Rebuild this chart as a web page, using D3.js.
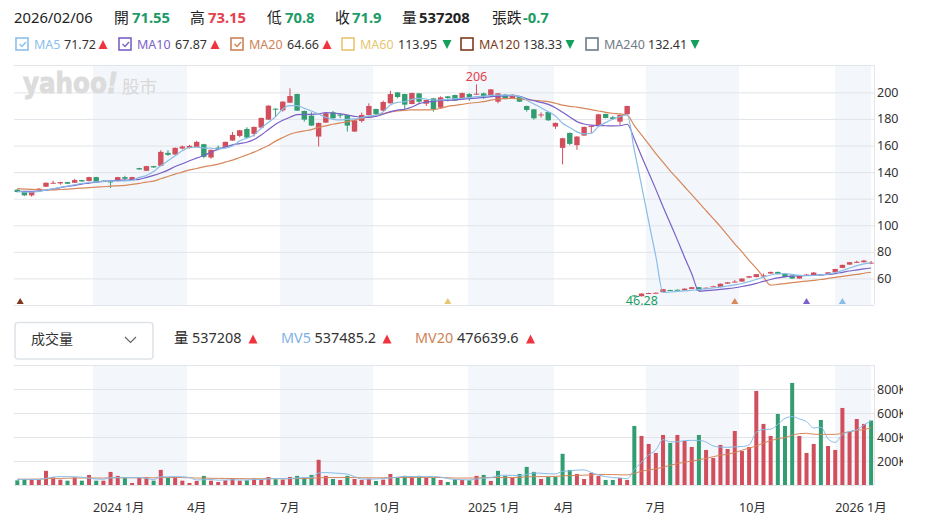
<!DOCTYPE html>
<html>
<head>
<meta charset="utf-8">
<style>
  html, body { margin: 0; padding: 0; background: #fff; }
  svg { display: block; font-family: "Noto Sans", "Noto Sans CJK TC", sans-serif; }
</style>
<script src="https://cdn.jsdelivr.net/npm/d3@7"></script>
</head>
<body>
<svg id="chart" width="925" height="520"></svg>
<script>
// weekly candles
const opens = [
    126.75,125.5,122.5,126.5,129,131.5,131.5,132.5,132,134,
    133.25,136.25,133.5,133,133.25,136.25,134,143,141,144.5,
    144.75,154.5,153.25,157.75,158.25,159,161,151,158.5,159,
    163.75,167.25,172.5,168.75,173.5,179.5,187.75,186.5,192.25,198.75,
    186,182.5,166.75,177.25,185,183.25,183,170.5,178.5,183,
    187.5,186.25,191.75,200,198.75,191.25,199.25,191.5,195.5,188.5,
    197,198,195,198.75,198.75,199.25,197.5,193,198.25,195.75,
    196.75,189.75,187.25,183,185.25,174.25,158.25,169.5,160.25,167.5,
    174.5,175.5,183.75,181.25,178,183.5,47.2,46.6,48.8,49,
    49.6,51.3,51.5,51,52.1,53.4,52.8,53.9,53.6,56.1,
    57.4,57.6,60.6,61,62.1,63.7,64.9,63.4,62.1,59.9,
    62.7,62.4,62.8,62.9,64.6,67.9,70.4,72.3,72.2,71.55
];
const closes = [
    125,122.5,125.5,127.5,132,132,132.5,131.25,134,133,
    136.25,132.25,132.75,132.5,136.25,135,136.25,142,144.5,143.5,
    155.25,153,158.25,159.25,159.75,162.75,151.5,156.75,157.5,162.75,
    168,171.5,166,174,180.75,190,187.25,193,197.25,186.25,
    179.5,175,177,184.25,180.5,182.5,175,179,183,189.75,
    183.5,192.75,198.75,196.5,190.75,199.5,193,194.25,187.5,196.25,
    195.75,193.75,199.5,196.5,199,197,202.25,199.25,195,198.25,
    193,186.75,180.5,183.4,179,177,165.5,161.25,166.75,174,
    174.75,183.5,180.75,180,183,189.75,46.8,48.6,49,49.2,
    51.9,51.1,51.3,52.3,53.4,50.9,53,54.1,56,57.1,
    57.6,59.9,61.7,63.2,62.3,64.9,63.2,61.1,59.9,61.9,
    62.9,64.4,63,64.6,67.1,70.2,72.2,72.5,73.4,71.9
];
const highs = [
    127.2,125.8,125.7,128,132.2,133.5,132.7,132.6,135,134.2,
    136.5,136.5,133.8,133.2,136.4,137.25,136.5,143.2,144.7,144.7,
    156.5,156.5,158.5,160,160.5,163.5,161.3,157,160,163,
    170.25,171.8,173.75,174.3,181,190.3,188,193.3,203,199,
    186.3,185,177.3,184.5,186,184.5,183.3,179.3,184.75,191.75,
    187.8,193.75,201.25,200.3,199,199.8,199.5,194.5,195.8,197,
    197.3,198.3,199.8,199.5,206,199.8,202.5,199.5,198.8,198.5,
    197,190,187.5,185,185.5,177.3,165.8,169.8,167,174.3,
    175,183.8,184,182.25,183.3,190,47.5,48.8,49.3,49.5,
    52.1,51.5,51.7,52.5,53.6,53.6,53.3,54.5,56.2,57.3,
    58.8,60.1,61.9,63.4,63.7,65.1,65.1,63.6,62.3,62.1,
    63.3,64.9,63.4,64.8,67.3,70.4,72.4,73.4,74,73.15
];
const lows = [
    124.7,122.2,121.5,126.3,128.8,131.3,130.5,131,131.8,132.8,
    133,132,132.5,128,133,134,133.8,141.8,140.8,143.3,
    144.5,152.25,153,157,157.75,158.8,150.5,150,156.5,158.8,
    163.5,166.25,165.7,166.75,173.3,179.3,181.5,185.5,192,186,
    178,174.8,159.25,177,180.3,180.5,170.5,170.3,177.25,182.8,
    183.3,186,191.5,195.5,186.75,191,191.75,189.75,185.5,188.3,
    193.25,193.5,194.8,193.75,198.5,195,197.3,191.75,194.8,195.5,
    192.8,185.5,179.5,181,178.5,172.5,145.75,160.25,156.75,167.3,
    169.25,175.3,180.5,179.25,175.5,183.3,46.28,46.4,48.6,48.8,
    49.4,50.9,51.1,50.8,51.9,50.7,52.6,53.7,53.4,55.9,
    57.2,57.4,60.4,60.8,60.9,63.5,63,60.9,59.7,59.7,
    62.5,62.2,62.6,62.7,64.4,67.7,70.2,71.6,72,70.8
];

const ma5 = [
    125.5,125,125,125.5,126.5,127.5,128.5,129.5,130.5,131.5,
    132.2,132.6,133,133.3,133.3,133.4,133.8,136,137.5,140.5,
    144.8,148.5,152.3,156,158.5,158.7,158.2,158,157.5,158,
    159.7,163.5,165.5,168,173,177.5,181.7,187.5,190,190,
    188,186,183.75,181.25,179.75,179.25,179.75,180,181,182.25,
    182.75,185.5,190.5,192.5,193,194.75,195.5,195,194.25,194.25,
    194.75,195.25,195.5,196,196.75,197.25,197.75,198,198,197.75,
    196.75,194.25,191.25,188.5,185.5,182.25,176.75,173.5,170.25,168.75,
    169.25,174.25,177.25,179.75,181.75,183,156.5,130,103,76.5,
    49.5,49.8,50.2,50.6,51.1,51.6,52.2,52.8,53.5,54.3,
    55.1,56.2,57.6,59.2,61,62.6,63.5,63.6,63,62.3,
    62,62.2,62.6,63.3,64.3,66,67.8,69.6,71,71.72
];
const ma10 = [
    125.5,125.5,125.5,125.7,126.5,127.3,128.3,129.3,130,131,
    131.7,132.5,133,133.5,133.8,134,134.2,134.6,136,137.5,
    139.3,141.5,144.2,146.3,148.5,150.5,152.5,155,157.3,158.8,
    160.5,161.5,162.5,164.5,168,172,176,179,181.3,183.2,
    183.5,183.5,183.8,184.8,184.5,183.8,183,182,181.3,181.2,
    182,183.5,185.5,186.7,187.3,189,191.5,192.6,193.2,193.7,
    194,194.4,194.8,195.3,195.7,196.2,196.8,197.2,197.4,197.5,
    197,195.2,193.7,192.5,191,188.5,185,181.5,178,176.2,
    175.3,175,174.9,174.8,174.9,176,165,152,139.5,127,
    114,101.5,89,76,63.5,50.5,50.8,51.2,51.7,52.3,
    53,53.9,55,56.3,57.8,59.2,60.4,61.2,61.7,62,
    62.2,62.4,62.7,63,63.6,64.6,65.6,66.4,67.2,67.87
];
const ma20 = [
    127.5,127.2,127,126.7,126.5,126.6,126.9,127.2,127.6,128,
    128.3,128.7,129,129.4,129.7,130,130.7,131.5,132.5,133.2,
    135,136.7,138.5,140,141.7,142.7,144,145,146,147.5,
    149,151,153,155,157.5,160,163.3,166,168.5,170,
    171,172,173.7,174.8,176,177,178,179.2,180.4,181.5,
    182.8,184,185.2,186,186.5,186.8,186.8,186.8,187,188,
    189.5,190.2,191,191.8,192.4,193,194.2,195,195.3,195.5,
    195,194.5,194,193.5,193,191.8,190.4,189.5,188.9,188,
    187,186,185,184.3,183.8,183,175,168,161,154,
    147.5,141,135,129,123,117,111,105,99,92.5,
    86,80,73.5,67.5,61,54.9,55.5,56.1,56.8,57.4,
    58,58.6,59.2,60,60.8,61.5,62.3,63,63.9,64.66
];

// volume in thousands of shares, 1 = red bar, 0 = green bar
const volumesK = [
    39,48,50,42,118,64,45,36,64,36,
    84,36,36,109,76,59,17,59,64,36,
    126,59,64,36,17,34,76,36,25,39,
    53,36,39,53,45,67,48,45,67,76,
    62,84,210,76,50,42,76,50,42,53,
    34,45,92,59,76,70,76,62,59,42,
    25,48,42,39,76,84,34,118,76,59,
    92,151,109,50,67,67,260,126,92,50,
    101,76,42,42,59,42,492,409,342,267,
    417,350,417,367,317,417,292,225,334,300,
    450,283,317,784,509,409,592,492,851,409,
    267,342,542,325,292,642,442,550,509,537.208
];
const volumeUp = [
    0,0,1,1,1,1,1,0,1,0,
    1,0,1,1,1,0,1,1,1,0,
    1,0,1,1,1,1,0,1,1,1,
    1,1,0,1,1,1,0,1,1,0,
    0,0,1,1,0,1,0,1,1,1,
    0,1,1,0,0,1,0,1,0,1,
    0,0,1,0,1,0,1,0,0,1,
    0,0,0,1,0,0,0,0,1,1,
    1,1,0,0,1,1,0,1,1,1,
    1,0,1,1,1,0,1,1,1,1,
    1,1,1,1,1,1,0,0,0,1,
    1,1,0,1,1,1,1,1,1,0
];
const mv5 = [
    48,47,46,45,56,66,70,70,68,65,
    56,50,48,60,62,60,62,62,55,45,
    68,68,70,68,62,42,44,46,40,42,
    44,42,42,46,46,50,54,52,54,58,
    62,62,100,104,100,97,90,70,50,48,
    50,54,58,66,72,70,70,70,70,66,
    54,46,44,42,50,56,62,76,82,80,
    78,88,100,98,94,92,114,118,124,126,
    105,84,70,62,58,52,130,190,250,292,
    378,360,360,370,372,372,358,325,316,314,
    318,320,335,440,462,465,505,555,570,550,
    528,475,482,385,355,420,445,460,500,537.5
];
const mv20 = [
    48,48,49,50,52,54,55,56,58,58,
    59,58,58,60,60,61,60,60,60,60,
    62,62,63,62,60,58,58,56,55,55,
    54,53,52,52,52,53,53,52,52,53,
    54,56,60,62,62,62,62,62,60,60,
    60,60,62,62,62,63,63,63,63,62,
    60,58,58,58,58,60,62,62,62,62,
    64,68,70,70,70,72,76,78,80,82,
    84,88,88,87,85,84,97,115,125,135,
    148,165,178,190,200,210,222,236,248,256,
    270,290,308,325,350,370,385,395,415,428,
    431,423,422,422,422,432,445,455,462,476.6
];

const priceTicks = [60, 80, 100, 120, 140, 160, 180, 200];
const volumeTicks = [200, 400, 600, 800];

// calendar quarters in candle positions
const quarterBands = [[10.55, 23.65], [36.6, 49.6], [62.8, 74.8], [87.6, 100.6], [114, 119]];
const timeTickPos = [10.55, 23.65, 36.6, 49.6, 62.8, 74.8, 87.6, 100.6, 114];
const timeTickLabels = ['2024 1月', '4月', '7月', '10月', '2025 1月', '4月', '7月', '10月', '2026 1月'];

// small triangles along the bottom of the price panel
const maMarkerPos = [0.4, 60, 100, 110, 115];
const maMarkerColors = ['#7d3a20', '#e6c670', '#d8875a', '#7a60c8', '#88bde8'];

const headerItems = [
    [14, '2026/02/06', '#222', 400],
    [114, '開', '#222', 400], [132, '71.55', '#1c9c66', 700],
    [190, '高', '#222', 400], [208, '73.15', '#e5404e', 700],
    [267, '低', '#222', 400], [285, '70.8', '#1c9c66', 700],
    [335, '收', '#222', 400], [352, '71.9', '#1c9c66', 700],
    [402, '量', '#222', 400], [419, '537208', '#222', 700],
    [492, '張跌', '#222', 400], [523, '-0.7', '#1c9c66', 700]
];
const maLegend = [
    {x: 15, name: 'MA5', value: '71.72', up: true, on: true, color: '#8cc0ea'},
    {x: 118, name: 'MA10', value: '67.87', up: true, on: true, color: '#7b62c9'},
    {x: 230, name: 'MA20', value: '64.66', up: true, on: true, color: '#cf8357'},
    {x: 341, name: 'MA60', value: '113.95', up: false, on: false, color: '#e6c670'},
    {x: 460, name: 'MA120', value: '138.33', up: false, on: false, color: '#7d3a20'},
    {x: 585, name: 'MA240', value: '132.41', up: false, on: false, color: '#6f7a85'}
];
const volumeLegend = [
    {x: 174, name: '量', color: '#222', valueX: 192, value: '537208', triX: 253},
    {x: 281, name: 'MV5', color: '#7fb2e5', valueX: 314.5, value: '537485.2', triX: 387},
    {x: 415, name: 'MV20', color: '#cf8357', valueX: 457, value: '476639.6', triX: 530.5}
];

window.Vis = window.Vis || {};

Vis.init = function() {
    Vis.setup.initConsts();
    Vis.setup.initScales();

    Vis.core.drawPanels();
    Vis.core.drawLogo();
    Vis.core.drawCandles();
    Vis.core.drawVolume();
    Vis.core.drawHeader();
};

Vis.setup = {
    initConsts: function() {
        Vis.svg = d3.select('#chart');
        Vis.left = 14;
        Vis.right = 874;
        Vis.priceTop = 65;
        Vis.priceBottom = 305;
        Vis.volTop = 365;
        Vis.volBottom = 485;

        Vis.gridColor = '#e1e4e9';
        Vis.bandColor = '#f3f6fa';
        Vis.textColor = '#333';
        Vis.red = '#d14f5c';
        Vis.green = '#329d70';
        Vis.triRed = '#f0343f';
        Vis.triGreen = '#13a05c';
    },

    initScales: function() {
        // i = 0 sits at x 17.3, i = 119 at 871.1
        Vis.x = d3.scaleLinear().domain([0, 119]).range([17.3, 871.1]);
        Vis.yPrice = d3.scaleLinear().domain([40, 220.6]).range([Vis.priceBottom, Vis.priceTop]);
        Vis.yVol = d3.scaleLinear().domain([0, 1000]).range([Vis.volBottom, Vis.volTop]);
    }
};

Vis.core = {
    drawPanels: function() {
        const svg = Vis.svg;

        // the K of the volume ticks is cut off at the chart edge
        svg.append('clipPath').attr('id', 'axis-clip')
            .append('rect')
            .attr('x', 0).attr('y', 0)
            .attr('width', 903).attr('height', 520);

        [[Vis.priceTop, Vis.priceBottom], [Vis.volTop, Vis.volBottom]].forEach(function(p) {
            svg.append('g').selectAll('rect').data(quarterBands).join('rect')
                .attr('x', d => Vis.x(d[0]))
                .attr('width', d => Vis.x(d[1]) - Vis.x(d[0]))
                .attr('y', p[0])
                .attr('height', p[1] - p[0])
                .attr('fill', Vis.bandColor);
        });

        Vis.helpers.drawAxis(Vis.yPrice, priceTicks, d => d);
        Vis.helpers.drawAxis(Vis.yVol, volumeTicks, d => d + 'K');

        // frame lines of both panels
        [Vis.priceTop, Vis.priceBottom, Vis.volTop, Vis.volBottom].forEach(function(y) {
            svg.append('line')
                .attr('x1', Vis.left).attr('x2', Vis.right)
                .attr('y1', y + 0.5).attr('y2', y + 0.5)
                .attr('stroke', Vis.gridColor);
        });
        [[Vis.priceTop, Vis.priceBottom], [Vis.volTop, Vis.volBottom]].forEach(function(p) {
            svg.append('line')
                .attr('x1', Vis.right + 0.5).attr('x2', Vis.right + 0.5)
                .attr('y1', p[0]).attr('y2', p[1])
                .attr('stroke', Vis.gridColor);
        });

        svg.append('g').selectAll('text').data(timeTickPos).join('text')
            .attr('x', d => Vis.x(d))
            .attr('y', 512)
            .attr('font-size', 12.5)
            .attr('fill', Vis.textColor)
            .text((d, i) => timeTickLabels[i]);
    },

    drawLogo: function() {
        const logo = Vis.svg.append('g')
            .attr('fill', '#dcdcdc')
            .attr('stroke', '#dcdcdc');
        // one text element so the mark stays in one piece
        const word = logo.append('text')
            .attr('x', 23).attr('y', 93)
            .attr('font-family', '"DejaVu Sans"')
            .attr('font-weight', 700)
            .attr('font-size', 28)
            .attr('stroke-width', 0.9)
            .attr('textLength', 95)
            .attr('lengthAdjust', 'spacingAndGlyphs');
        word.append('tspan').text('yahoo');
        word.append('tspan')
            .attr('font-style', 'italic')
            .text('!');
        logo.append('text')
            .attr('x', 122).attr('y', 93)
            .attr('font-size', 17.5)
            .attr('stroke', 'none')
            .attr('fill', '#d9d9d9')
            .text('股市');
    },

    drawCandles: function() {
        const svg = Vis.svg;
        const bodyW = 5.4;
        const candles = d3.range(opens.length);
        const color = i => closes[i] >= opens[i] ? Vis.red : Vis.green;

        const g = svg.append('g');
        g.selectAll('line').data(candles).join('line')
            .attr('x1', i => Vis.x(i)).attr('x2', i => Vis.x(i))
            .attr('y1', i => Vis.yPrice(highs[i]))
            .attr('y2', i => Vis.yPrice(lows[i]))
            .attr('stroke', color);
        g.selectAll('rect').data(candles).join('rect')
            .attr('x', i => Vis.x(i) - bodyW / 2)
            .attr('width', bodyW)
            .attr('y', i => Vis.yPrice(Math.max(opens[i], closes[i])))
            .attr('height', i => Math.max(1, Math.abs(Vis.yPrice(opens[i]) - Vis.yPrice(closes[i]))))
            .attr('fill', color);

        Vis.helpers.drawLine(Vis.yPrice, ma20, '#d8875a', 1.2);
        Vis.helpers.drawLine(Vis.yPrice, ma10, '#7a60c8', 1.2);
        Vis.helpers.drawLine(Vis.yPrice, ma5, '#88bde8', 1.2);

        // highest and lowest price labels
        svg.append('text')
            .attr('x', Vis.x(d3.maxIndex(highs)))
            .attr('y', Vis.yPrice(d3.max(highs)) - 3)
            .attr('text-anchor', 'middle')
            .attr('font-size', 12.5)
            .attr('fill', '#e5404e')
            .text(d3.max(highs));
        svg.append('text')
            .attr('x', Vis.x(d3.minIndex(lows)) + 7.5)
            .attr('y', 305)
            .attr('text-anchor', 'middle')
            .attr('font-size', 12.5)
            .attr('fill', '#1c9c66')
            .text(d3.min(lows));

        svg.append('g').selectAll('path').data(maMarkerPos).join('path')
            .attr('d', d3.symbol(d3.symbolTriangle, 22))
            .attr('transform', d => 'translate(' + Vis.x(d) + ',302)')
            .attr('fill', (d, i) => maMarkerColors[i]);
    },

    drawVolume: function() {
        const barW = 4;
        Vis.svg.append('g').selectAll('rect').data(volumesK).join('rect')
            .attr('x', (d, i) => Vis.x(i) - barW / 2)
            .attr('width', barW)
            .attr('y', d => Vis.yVol(d))
            .attr('height', d => Vis.yVol(0) - Vis.yVol(d))
            .attr('fill', (d, i) => volumeUp[i] ? Vis.red : Vis.green);

        Vis.helpers.drawLine(Vis.yVol, mv20, '#d8875a', 1);
        Vis.helpers.drawLine(Vis.yVol, mv5, '#88bde8', 1);
    },

    drawHeader: function() {
        const svg = Vis.svg;

        svg.append('g').selectAll('text').data(headerItems).join('text')
            .attr('x', d => d[0])
            .attr('y', 23)
            .attr('font-size', 14.8)
            .attr('fill', d => d[2])
            .attr('font-weight', d => d[3])
            .text(d => d[1]);

        const items = svg.append('g').selectAll('g').data(maLegend).join('g');
        items.append('rect')
            .attr('x', d => d.x + 1).attr('y', 38)
            .attr('width', 12).attr('height', 12)
            .attr('fill', 'none')
            .attr('stroke', d => d.color)
            .attr('stroke-width', 1.6);
        items.filter(d => d.on).append('path')
            .attr('d', d => 'M' + (d.x + 4.5) + ',44 l2.5,2.5 l4,-4.5')
            .attr('fill', 'none')
            .attr('stroke', d => d.color)
            .attr('stroke-width', 1.4);
        items.append('text')
            .attr('x', d => d.x + 19).attr('y', 49)
            .attr('font-size', 12.5)
            .attr('fill', d => d.color)
            .text(d => d.name);
        items.append('text')
            .attr('x', d => d.x + (d.name.length === 3 ? 49 : d.name.length === 4 ? 57 : 63))
            .attr('y', 49)
            .attr('font-size', 12.5)
            .attr('fill', Vis.textColor)
            .text(d => d.value);
        items.each(function(d) {
            const base = d.x + (d.name.length === 3 ? 88 : d.name === 'MA60' ? 106 : d.name.length === 4 ? 97 : 110);
            Vis.helpers.drawTriangle(d3.select(this), base, 44.5, d.up);
        });

        // volume selector
        svg.append('rect')
            .attr('x', 15).attr('y', 322.5)
            .attr('width', 138).attr('height', 36.5)
            .attr('rx', 3)
            .attr('fill', '#fff')
            .attr('stroke', '#dfe3e8')
            .attr('stroke-width', 1.6);
        svg.append('text')
            .attr('x', 31).attr('y', 344)
            .attr('font-size', 14)
            .attr('fill', Vis.textColor)
            .text('成交量');
        svg.append('path')
            .attr('d', 'M125,337 l5.5,5.5 l5.5,-5.5')
            .attr('fill', 'none')
            .attr('stroke', '#666')
            .attr('stroke-width', 1.2);

        const vol = svg.append('g').selectAll('g').data(volumeLegend).join('g');
        vol.append('text')
            .attr('x', d => d.x).attr('y', 343)
            .attr('font-size', 14.4)
            .attr('fill', d => d.color)
            .text(d => d.name);
        vol.append('text')
            .attr('x', d => d.valueX).attr('y', 343)
            .attr('font-size', 14.4)
            .attr('fill', Vis.textColor)
            .text(d => d.value);
        vol.each(function(d) {
            Vis.helpers.drawTriangle(d3.select(this), d.triX, 339, true);
        });
    }
};

Vis.helpers = {
    drawAxis: function(scale, ticks, format) {
        const axis = d3.axisRight(scale)
            .tickValues(ticks)
            .tickFormat(format)
            .tickSize(Vis.right - Vis.left)
            .tickPadding(3);
        const g = Vis.svg.append('g')
            .attr('clip-path', 'url(#axis-clip)')
            .append('g')
            .attr('transform', 'translate(' + Vis.left + ',0)')
            .call(axis);
        g.select('.domain').remove();
        g.selectAll('line').attr('stroke', Vis.gridColor);
        g.selectAll('text')
            .attr('font-size', 12.5)
            .attr('font-family', '"Noto Sans", sans-serif')
            .attr('fill', Vis.textColor);
    },

    drawLine: function(scale, values, color, width) {
        const line = d3.line()
            .x((d, i) => Vis.x(i))
            .y(d => scale(d))
            .curve(d3.curveMonotoneX);
        Vis.svg.append('path')
            .attr('d', line(values))
            .attr('fill', 'none')
            .attr('stroke', color)
            .attr('stroke-width', width);
    },

    drawTriangle: function(parent, x, y, up) {
        const d = up
            ? 'M' + x + ',' + (y - 4.5) + ' l4.5,9 l-9,0 z'
            : 'M' + x + ',' + (y + 4.5) + ' l4.5,-9 l-9,0 z';
        parent.append('path')
            .attr('d', d)
            .attr('fill', up ? Vis.triRed : Vis.triGreen);
    }
};

document.addEventListener('DOMContentLoaded', Vis.init);
</script>
</body>
</html>
